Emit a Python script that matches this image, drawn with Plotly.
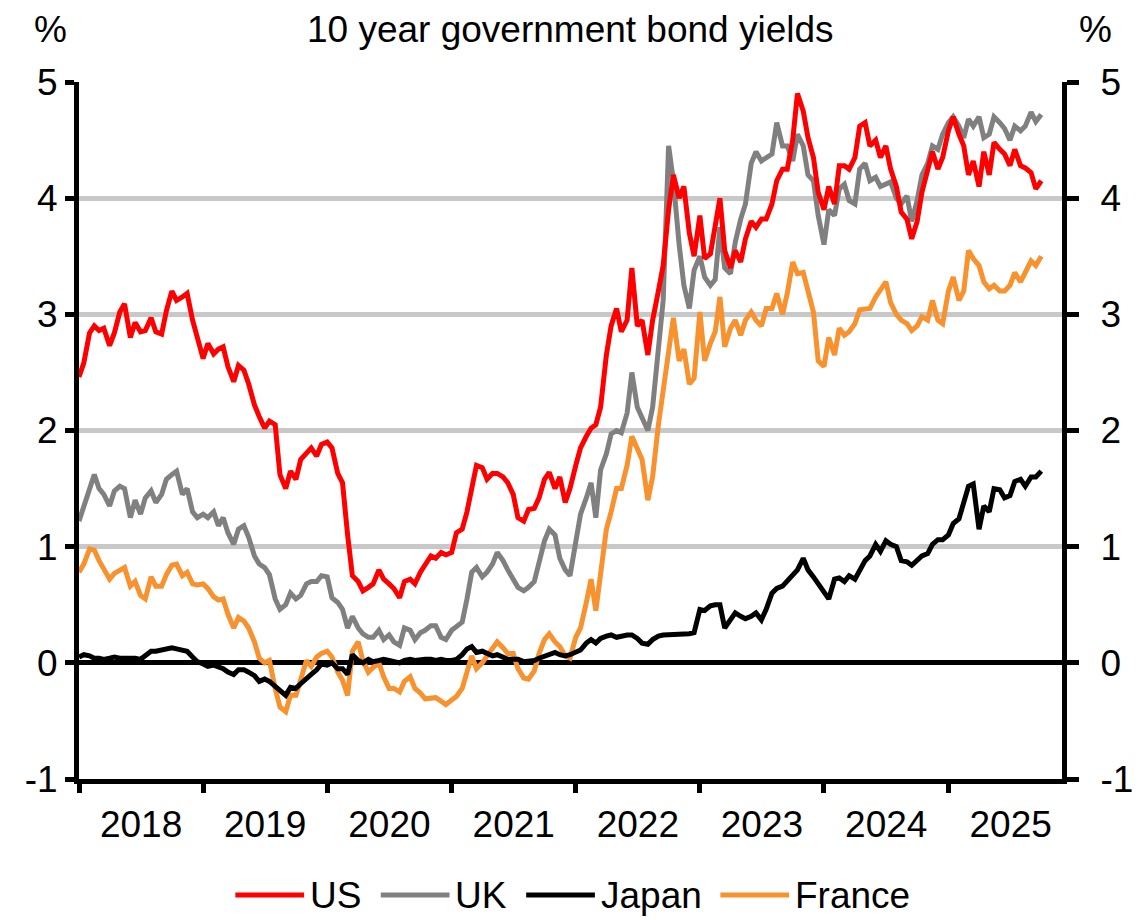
import pandas as pd
import plotly.graph_objects as go

# ---------------- data (semi-monthly readings, 1st and 15th of each month) ----------------
dates = pd.date_range("2018-01-01", "2025-10-01", freq="SMS")

us_2018 = [2.46, 2.58, 2.84, 2.90, 2.86, 2.88, 2.73, 2.84, 3.02, 3.09, 2.80, 2.93,
           2.85, 2.86, 2.97, 2.85, 2.83, 3.03, 3.20, 3.12, 3.15, 3.18, 2.95, 2.80]
us_2019 = [2.62, 2.75, 2.66, 2.70, 2.72, 2.55, 2.42, 2.56, 2.52, 2.40, 2.22, 2.12,
           2.02, 2.08, 2.05, 1.62, 1.50, 1.65, 1.58, 1.75, 1.80, 1.85, 1.78, 1.88]
us_2020 = [1.90, 1.85, 1.63, 1.55, 1.10, 0.75, 0.70, 0.62, 0.65, 0.68, 0.80, 0.72,
           0.68, 0.64, 0.56, 0.70, 0.72, 0.68, 0.78, 0.84, 0.92, 0.90, 0.95, 0.93]
us_2021 = [0.95, 1.12, 1.15, 1.30, 1.52, 1.70, 1.68, 1.58, 1.63, 1.63, 1.60, 1.55,
           1.45, 1.25, 1.22, 1.32, 1.33, 1.42, 1.58, 1.64, 1.50, 1.60, 1.38, 1.50]
us_2022 = [1.70, 1.85, 1.95, 2.02, 2.05, 2.20, 2.65, 2.90, 3.05, 2.85, 2.95, 3.40,
           2.90, 2.95, 2.65, 2.95, 3.20, 3.42, 3.90, 4.20, 4.00, 4.10, 3.70, 3.50]
us_2023 = [3.85, 3.48, 3.52, 3.75, 4.00, 3.55, 3.40, 3.55, 3.45, 3.65, 3.80, 3.75,
           3.82, 3.82, 3.95, 4.15, 4.25, 4.25, 4.50, 4.90, 4.75, 4.52, 4.35, 4.05]
us_2024 = [3.90, 4.10, 3.95, 4.28, 4.28, 4.25, 4.35, 4.62, 4.65, 4.45, 4.50, 4.35,
           4.45, 4.25, 4.10, 3.88, 3.82, 3.65, 3.80, 4.05, 4.25, 4.40, 4.25, 4.35]
us_2025 = [4.58, 4.70, 4.55, 4.45, 4.20, 4.32, 4.10, 4.40, 4.20, 4.48, 4.42, 4.38,
           4.28, 4.42, 4.28, 4.26, 4.22, 4.08, 4.15]

uk_2018 = [1.22, 1.35, 1.50, 1.62, 1.50, 1.45, 1.35, 1.48, 1.52, 1.50, 1.25, 1.40,
           1.28, 1.42, 1.48, 1.38, 1.45, 1.58, 1.62, 1.65, 1.45, 1.50, 1.30, 1.25]
uk_2019 = [1.28, 1.25, 1.30, 1.18, 1.25, 1.12, 1.02, 1.15, 1.18, 1.08, 0.92, 0.85,
           0.82, 0.76, 0.55, 0.46, 0.50, 0.60, 0.55, 0.58, 0.68, 0.70, 0.70, 0.75]
uk_2020 = [0.74, 0.56, 0.52, 0.46, 0.30, 0.40, 0.30, 0.25, 0.22, 0.22, 0.28, 0.20,
           0.24, 0.18, 0.15, 0.30, 0.28, 0.20, 0.26, 0.28, 0.32, 0.32, 0.22, 0.20]
uk_2021 = [0.28, 0.31, 0.35, 0.55, 0.78, 0.82, 0.74, 0.78, 0.85, 0.95, 0.88, 0.80,
           0.72, 0.65, 0.62, 0.65, 0.70, 0.85, 1.05, 1.15, 1.10, 0.90, 0.80, 0.75]
uk_2022 = [1.05, 1.28, 1.42, 1.55, 1.25, 1.66, 1.80, 1.97, 2.00, 1.98, 2.15, 2.50,
           2.20, 2.12, 2.00, 2.20, 2.70, 3.12, 4.45, 4.15, 3.60, 3.25, 3.05, 3.38]
uk_2023 = [3.50, 3.32, 3.25, 3.30, 3.75, 3.40, 3.35, 3.62, 3.82, 3.95, 4.30, 4.40,
           4.32, 4.35, 4.38, 4.65, 4.45, 4.45, 4.32, 4.55, 4.45, 4.20, 4.15, 3.85]
uk_2024 = [3.60, 3.90, 3.85, 4.08, 4.12, 3.98, 3.95, 4.25, 4.30, 4.15, 4.18, 4.10,
           4.12, 4.14, 4.00, 3.95, 4.02, 3.80, 3.98, 4.20, 4.30, 4.45, 4.42, 4.55]
uk_2025 = [4.65, 4.70, 4.62, 4.52, 4.68, 4.62, 4.70, 4.52, 4.55, 4.70, 4.65, 4.60,
           4.50, 4.62, 4.58, 4.62, 4.74, 4.66, 4.72]

jp_2018 = [0.05, 0.07, 0.06, 0.04, 0.04, 0.03, 0.04, 0.05, 0.04, 0.04, 0.05, 0.04,
           0.03, 0.06, 0.10, 0.10, 0.11, 0.12, 0.13, 0.12, 0.11, 0.10, 0.05, 0.01]
jp_2019 = [-0.01, -0.03, -0.02, -0.03, -0.05, -0.08, -0.10, -0.06, -0.06, -0.08, -0.11, -0.16,
           -0.14, -0.16, -0.20, -0.24, -0.28, -0.21, -0.22, -0.18, -0.13, -0.10, -0.06, -0.01]
jp_2020 = [-0.02, 0.00, -0.05, -0.05, -0.10, 0.07, 0.02, 0.00, 0.03, 0.01, 0.02, 0.03,
           0.02, 0.01, 0.00, 0.02, 0.03, 0.02, 0.03, 0.03, 0.03, 0.02, 0.03, 0.02]
jp_2021 = [0.02, 0.03, 0.07, 0.12, 0.14, 0.09, 0.10, 0.08, 0.06, 0.07, 0.05, 0.03,
           0.03, 0.03, 0.01, 0.01, 0.02, 0.04, 0.06, 0.08, 0.09, 0.07, 0.06, 0.07]
jp_2022 = [0.09, 0.11, 0.17, 0.20, 0.17, 0.21, 0.23, 0.24, 0.22, 0.23, 0.24, 0.24,
           0.21, 0.17, 0.16, 0.20, 0.23, 0.24, 0.24, 0.24, 0.24, 0.25, 0.25, 0.26]
jp_2023 = [0.46, 0.45, 0.49, 0.50, 0.50, 0.30, 0.38, 0.43, 0.40, 0.38, 0.40, 0.43,
           0.37, 0.46, 0.60, 0.64, 0.66, 0.71, 0.76, 0.80, 0.90, 0.80, 0.74, 0.68]
jp_2024 = [0.60, 0.55, 0.72, 0.73, 0.70, 0.75, 0.72, 0.80, 0.88, 0.92, 1.02, 0.96,
           1.05, 1.02, 1.00, 0.88, 0.87, 0.84, 0.88, 0.92, 0.94, 1.02, 1.06, 1.06]
jp_2025 = [1.10, 1.20, 1.24, 1.38, 1.52, 1.54, 1.15, 1.35, 1.30, 1.50, 1.49, 1.42,
           1.44, 1.56, 1.58, 1.52, 1.60, 1.60, 1.65]

fr_2018 = [0.78, 0.85, 0.98, 0.97, 0.88, 0.80, 0.72, 0.77, 0.80, 0.82, 0.66, 0.70,
           0.58, 0.55, 0.74, 0.66, 0.66, 0.76, 0.84, 0.85, 0.75, 0.78, 0.68, 0.67]
fr_2019 = [0.68, 0.64, 0.57, 0.54, 0.55, 0.42, 0.30, 0.39, 0.36, 0.30, 0.18, 0.04,
           0.00, 0.02, -0.22, -0.38, -0.42, -0.28, -0.28, -0.15, 0.02, -0.03, 0.05, 0.08]
fr_2020 = [0.10, 0.05, -0.08, -0.15, -0.28, 0.10, 0.18, 0.02, -0.08, -0.04, 0.00, -0.12,
           -0.22, -0.22, -0.25, -0.16, -0.12, -0.22, -0.26, -0.31, -0.31, -0.30, -0.33, -0.36]
fr_2021 = [-0.32, -0.29, -0.22, -0.06, 0.06, -0.05, 0.00, 0.06, 0.12, 0.18, 0.13, 0.08,
           0.08, -0.05, -0.13, -0.14, -0.07, 0.08, 0.20, 0.25, 0.18, 0.14, 0.06, 0.04]
fr_2022 = [0.22, 0.30, 0.52, 0.72, 0.45, 0.80, 1.15, 1.30, 1.50, 1.50, 1.70, 1.95,
           1.83, 1.75, 1.40, 1.60, 2.05, 2.35, 2.65, 2.97, 2.60, 2.70, 2.40, 2.45]
fr_2023 = [3.02, 2.60, 2.75, 2.85, 3.15, 2.72, 2.88, 2.95, 2.82, 2.95, 3.02, 2.95,
           2.90, 3.05, 3.05, 3.18, 3.00, 3.18, 3.45, 3.35, 3.36, 3.18, 3.02, 2.60]
fr_2024 = [2.55, 2.80, 2.65, 2.88, 2.82, 2.85, 2.92, 3.04, 3.05, 3.05, 3.15, 3.22,
           3.28, 3.10, 3.00, 2.95, 2.92, 2.86, 2.90, 2.98, 2.95, 3.12, 2.95, 2.92]
fr_2025 = [3.20, 3.32, 3.12, 3.20, 3.55, 3.48, 3.42, 3.28, 3.22, 3.25, 3.20, 3.20,
           3.25, 3.36, 3.28, 3.36, 3.46, 3.42, 3.50]

us = us_2018 + us_2019 + us_2020 + us_2021 + us_2022 + us_2023 + us_2024 + us_2025
uk = uk_2018 + uk_2019 + uk_2020 + uk_2021 + uk_2022 + uk_2023 + uk_2024 + uk_2025
japan = jp_2018 + jp_2019 + jp_2020 + jp_2021 + jp_2022 + jp_2023 + jp_2024 + jp_2025
france = fr_2018 + fr_2019 + fr_2020 + fr_2021 + fr_2022 + fr_2023 + fr_2024 + fr_2025

for name, s in [("us", us), ("uk", uk), ("japan", japan), ("france", france)]:
    assert len(s) == len(dates), (name, len(s), len(dates))

series_names = ["US", "UK", "Japan", "France"]
series_colors = ["#FF0000", "#808080", "#000000", "#F7922F"]
y_ticks = [-1, 0, 1, 2, 3, 4, 5]
title_text = "10 year government bond yields"

# ---------------- figure ----------------
FONT = "Liberation Sans Narrow, Arial Narrow, Liberation Sans, Arial, sans-serif"
FS = 37
OFF = 8                      # page body margin
W, H = 1145 - OFF, 920 - OFF
ML, MR, MT, MB = 79 - OFF, 79, 82 - OFF, 141
PW, PH = W - ML - MR, H - MT - MB

def px_x(sx):
    return (sx - OFF - ML) / PW

def px_y(sy):
    return (H - MB - (sy - OFF)) / PH

fig = go.Figure()
values = {"US": us, "UK": uk, "Japan": japan, "France": france}
color_of = dict(zip(series_names, series_colors))
for name in ["France", "Japan", "UK", "US"]:
    fig.add_trace(go.Scatter(
        x=dates, y=values[name], name=name, mode="lines",
        line=dict(color=color_of[name], width=5),
        yaxis="y2" if name == "US" else "y",
        showlegend=False,
    ))

tickfont = dict(family=FONT, size=FS, color="black")
fig.update_layout(
    width=W, height=H,
    margin=dict(l=ML, r=MR, t=MT, b=MB, pad=0),
    paper_bgcolor="white", plot_bgcolor="white",
    font=dict(family=FONT, size=FS, color="black"),
    showlegend=False,
    xaxis=dict(
        type="date", range=["2018-01-01", "2025-12-01"],
        dtick="M12", tick0="2018-01-01", tickformat="%Y", ticklabelmode="period",
        showgrid=False, zeroline=False,
        showline=True, linecolor="black", linewidth=5,
        ticks="outside", ticklen=9, tickwidth=5, tickcolor="black",
        tickfont=tickfont,
    ),
    yaxis=dict(
        range=[-1, 5], tickvals=y_ticks, ticktext=[str(v) for v in y_ticks],
        showgrid=True, gridcolor="#C8C8C8", gridwidth=5,
        zeroline=True, zerolinecolor="black", zerolinewidth=5,
        showline=True, linecolor="black", linewidth=5,
        ticks="outside", ticklen=9, tickwidth=5, tickcolor="black",
        tickfont=tickfont,
    ),
    yaxis2=dict(
        range=[-1, 5], tickvals=y_ticks, ticktext=[str(v) for v in y_ticks],
        overlaying="y", side="right",
        showgrid=False, zeroline=False,
        showline=True, linecolor="black", linewidth=5,
        ticks="outside", ticklen=12, tickwidth=5, tickcolor="black",
        ticklabelstandoff=14,
        tickfont=tickfont,
    ),
)

annotations = [
    dict(text=title_text, x=px_x(573), y=px_y(30), xref="paper", yref="paper",
         xanchor="center", yanchor="middle", showarrow=False,
         font=dict(family=FONT, size=FS, color="black")),
    dict(text="%", x=px_x(50), y=px_y(30), xref="paper", yref="paper",
         xanchor="center", yanchor="middle", showarrow=False,
         font=dict(family=FONT, size=FS, color="black")),
    dict(text="%", x=px_x(1100), y=px_y(30), xref="paper", yref="paper",
         xanchor="center", yanchor="middle", showarrow=False,
         font=dict(family=FONT, size=FS, color="black")),
]
shapes = []
legend_line_x = [236, 382, 528, 723]
legend_y = 895
for name, lx in zip(series_names, legend_line_x):
    shapes.append(dict(type="line", xref="paper", yref="paper",
                       x0=px_x(lx), x1=px_x(lx + 69), y0=px_y(legend_y), y1=px_y(legend_y),
                       line=dict(color=color_of[name], width=5)))
    annotations.append(dict(text=name, x=px_x(lx + 73), y=px_y(legend_y), xref="paper", yref="paper",
                            xanchor="left", yanchor="middle", showarrow=False,
                            font=dict(family=FONT, size=FS, color="black")))
fig.update_layout(annotations=annotations, shapes=shapes)

fig.write_html("out.html")
